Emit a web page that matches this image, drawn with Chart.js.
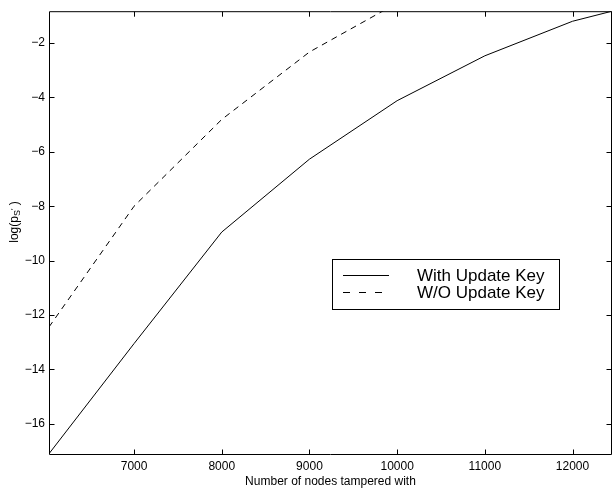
<!DOCTYPE html>
<html>
<head>
<meta charset="utf-8">
<script src="https://cdn.jsdelivr.net/npm/chart.js@4/dist/chart.umd.min.js"></script>
<style>
html, body {margin: 0; padding: 0; background: #fff;}
#wrap {width: 612px; height: 489px;}
</style>
</head>
<body>
<div id="wrap"><canvas id="myChart" width="612" height="489"></canvas></div>
<script>
// data
const nodes_with = [6030, 7000, 8000, 9000, 10000, 11000, 12000, 12450]
const logp_with = [-17.1, -13.05, -8.95, -6.27, -4.12, -2.47, -1.2, -0.83]
const nodes_without = [6030, 7000, 8000, 9000, 10000]
const logp_without = [-12.44, -8.0, -4.81, -2.33, -0.53]
const x_ticks = [7000, 8000, 9000, 10000, 11000, 12000]
const y_ticks = [-16, -14, -12, -10, -8, -6, -4, -2]
const series_labels = ['With Update Key', 'W/O Update Key']

const FONT = '"Liberation Sans", Arial, Helvetica, sans-serif'

const pairs = (xs, ys) => xs.map((x, i) => ({x: x, y: ys[i]}))

// box, inward ticks, legend and y title (matlab style)
const frame_plugin = {
    id: 'frame',
    afterDraw(chart) {
        const ctx = chart.ctx
        const a = chart.chartArea
        const sx = chart.scales.x, sy = chart.scales.y
        ctx.save()
        ctx.strokeStyle = '#000'
        ctx.lineWidth = 1
        const L = a.left + 0.5, R = a.right - 0.5, T = a.top + 0.5, B = a.bottom + 0.5
        ctx.beginPath()
        ctx.rect(L, T, R - L, B - T)
        x_ticks.forEach(v => {
            const px = Math.round(sx.getPixelForValue(v)) + 0.5
            ctx.moveTo(px, B); ctx.lineTo(px, B - 5)
            ctx.moveTo(px, T); ctx.lineTo(px, T + 5)
        })
        y_ticks.forEach(v => {
            const py = Math.round(sy.getPixelForValue(v)) + 0.5
            ctx.moveTo(L, py); ctx.lineTo(L + 5, py)
            ctx.moveTo(R, py); ctx.lineTo(R - 5, py)
        })
        ctx.stroke()

        // legend
        ctx.fillStyle = '#fff'
        ctx.fillRect(332, 259, 227, 50)
        ctx.strokeRect(332.5, 259.5, 227, 50)
        const rows = [275, 292]
        chart.data.datasets.forEach((ds, i) => {
            ctx.beginPath()
            ctx.setLineDash(i == 0 ? [] : [7, 9])
            ctx.moveTo(343, rows[i] + 0.5)
            ctx.lineTo(389, rows[i] + 0.5)
            ctx.stroke()
            ctx.setLineDash([])
            ctx.fillStyle = '#000'
            ctx.font = '17px ' + FONT
            ctx.textBaseline = 'middle'
            ctx.textAlign = 'left'
            ctx.fillText(ds.label, 417, rows[i] + 1)
        })

        // y title: log(p_S')
        ctx.translate(15, 222)
        ctx.rotate(-Math.PI / 2)
        ctx.textBaseline = 'middle'
        ctx.textAlign = 'left'
        const parts = [
            {t: 'log(p', size: 12, dy: 0},
            {t: 'S', size: 9, dy: 3},
            {t: '\u2032', size: 8, dy: -1},
            {t: ' )', size: 12, dy: 0}
        ]
        let w = 0
        parts.forEach(p => { ctx.font = p.size + 'px ' + FONT; p.w = ctx.measureText(p.t).width; w += p.w })
        let x0 = -w / 2
        parts.forEach(p => {
            ctx.font = p.size + 'px ' + FONT
            ctx.fillText(p.t, x0, p.dy)
            x0 += p.w
        })
        ctx.restore()
    }
}

const ctx = document.getElementById('myChart')
let myChart = new Chart(ctx, {
    type: 'line',
    data: {
        datasets: [{
            label: series_labels[0],
            data: pairs(nodes_with, logp_with),
            borderColor: '#000',
            borderWidth: 1
        }, {
            label: series_labels[1],
            data: pairs(nodes_without, logp_without),
            borderColor: '#000',
            borderWidth: 1,
            borderDash: [6, 5]
        }]
    },
    options: {
        responsive: false,
        devicePixelRatio: 1,
        animation: false,
        layout: {padding: {top: 8, right: 0, left: 0, bottom: 0}},
        plugins: {legend: {display: false}, tooltip: {enabled: false}},
        elements: {point: {radius: 0}, line: {tension: 0}},
        scales: {
            x: {
                type: 'linear',
                min: 6030,
                max: 12450,
                afterBuildTicks: s => { s.ticks = x_ticks.map(v => ({value: v})) },
                afterFit: s => { s.height = 35 },
                grid: {display: false, drawTicks: false},
                border: {display: false},
                ticks: {
                    color: '#000',
                    font: {family: FONT, size: 12},
                    padding: 5,
                    maxRotation: 0,
                    autoSkip: false,
                    callback: v => String(v)
                },
                title: {
                    display: true,
                    text: 'Number of nodes tampered with',
                    color: '#000',
                    font: {family: FONT, size: 12},
                    padding: {top: 0, bottom: 0}
                }
            },
            y: {
                type: 'linear',
                min: -17.11,
                max: -0.83,
                afterBuildTicks: s => { s.ticks = y_ticks.map(v => ({value: v})) },
                afterFit: s => { s.width = 49 },
                grid: {display: false, drawTicks: false},
                border: {display: false},
                ticks: {
                    color: '#000',
                    font: {family: FONT, size: 12},
                    padding: 4,
                    autoSkip: false,
                    callback: v => String(v).replace('-', '\u2212')
                }
            }
        }
    },
    plugins: [frame_plugin]
})
</script>
</body>
</html>
